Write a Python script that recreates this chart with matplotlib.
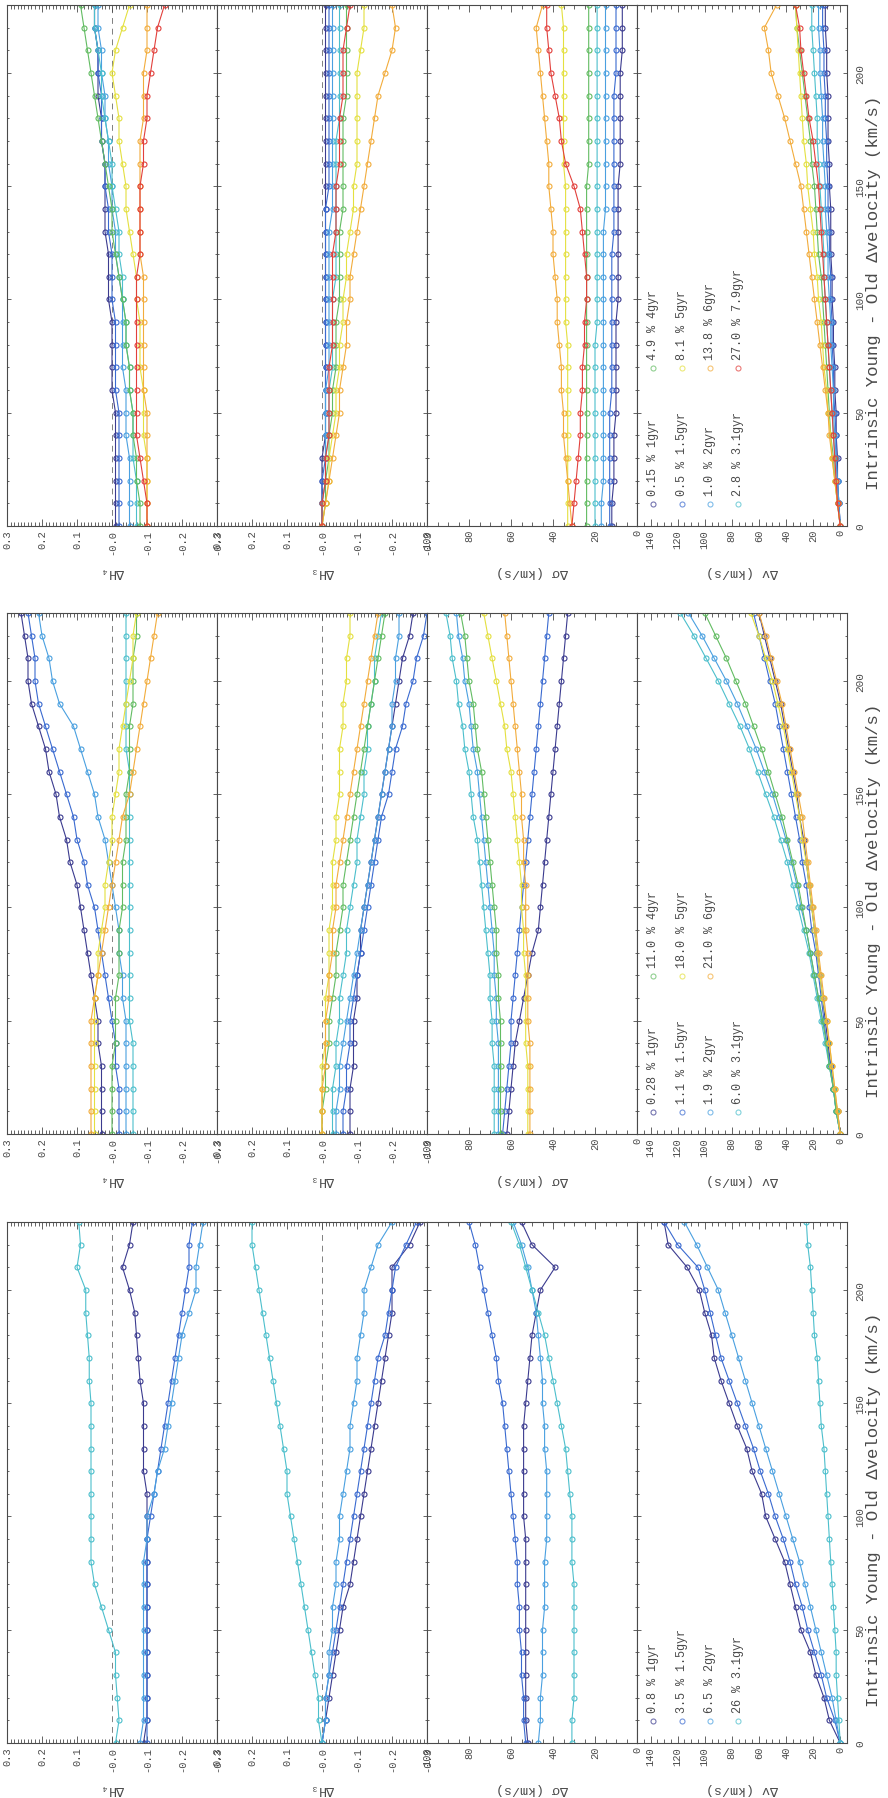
import matplotlib.pyplot as plt
from matplotlib.ticker import MultipleLocator

plt.rcParams['font.family'] = ['Liberation Mono', 'DejaVu Sans Mono']

# intrinsic young - old velocity offset (km/s)
vel = [0, 10, 20, 30, 40, 50, 60, 70, 80, 90, 100, 110,
       120, 130, 140, 150, 160, 170, 180, 190, 200, 210, 220, 230]

# one colour per young-population age: 1, 1.5, 2, 3.1, 4, 5, 6, 7.9 Gyr
age_colors = ['#3b3b8f', '#3a6ad0', '#4aa0e0', '#4cbfcc',
              '#62bc62', '#e4e040', '#f2ac3c', '#e2403c']

# ---- set A: four young fractions ----
a_labels = ['0.8 % 1gyr', '3.5 % 1.5gyr', '6.5 % 2gyr', '26 % 3.1gyr']
a_h4 = [
    [-0.09, -0.10, -0.10, -0.10, -0.10, -0.10, -0.10, -0.10, -0.10, -0.10, -0.10, -0.10,
     -0.09, -0.09, -0.09, -0.09, -0.08, -0.075, -0.07, -0.065, -0.05, -0.03, -0.05, -0.06],
    [-0.10, -0.10, -0.10, -0.10, -0.10, -0.10, -0.10, -0.10, -0.10, -0.10, -0.11, -0.12,
     -0.13, -0.14, -0.15, -0.16, -0.17, -0.18, -0.19, -0.20, -0.21, -0.22, -0.22, -0.23],
    [-0.08, -0.09, -0.09, -0.09, -0.09, -0.09, -0.09, -0.09, -0.09, -0.10, -0.10, -0.12,
     -0.13, -0.15, -0.16, -0.17, -0.18, -0.19, -0.20, -0.22, -0.24, -0.24, -0.25, -0.26],
    [-0.01, -0.02, -0.015, -0.01, -0.01, 0.01, 0.03, 0.05, 0.06, 0.06, 0.06, 0.06,
     0.06, 0.06, 0.06, 0.06, 0.065, 0.065, 0.07, 0.075, 0.075, 0.10, 0.09, 0.095],
]
a_h3 = [
    [0.0, -0.01, -0.02, -0.03, -0.04, -0.05, -0.06, -0.08, -0.09, -0.10, -0.11, -0.12,
     -0.13, -0.14, -0.15, -0.16, -0.17, -0.18, -0.19, -0.20, -0.20, -0.20, -0.25, -0.28],
    [0.0, -0.01, -0.01, -0.02, -0.03, -0.04, -0.05, -0.06, -0.07, -0.08, -0.09, -0.10,
     -0.11, -0.12, -0.13, -0.14, -0.15, -0.16, -0.18, -0.19, -0.20, -0.21, -0.24, -0.27],
    [0.0, -0.01, -0.01, -0.02, -0.02, -0.03, -0.03, -0.04, -0.04, -0.05, -0.05, -0.06,
     -0.07, -0.08, -0.08, -0.09, -0.10, -0.10, -0.11, -0.12, -0.12, -0.14, -0.16, -0.20],
    [0.0, 0.01, 0.01, 0.02, 0.03, 0.04, 0.05, 0.06, 0.07, 0.08, 0.09, 0.10,
     0.10, 0.11, 0.12, 0.13, 0.14, 0.15, 0.16, 0.17, 0.18, 0.19, 0.20, 0.20],
]
a_dsig = [
    [52, 53, 53, 53, 53, 53, 53, 53, 53, 53, 54, 54, 54, 54, 54, 53, 52, 51, 50, 48, 46, 39, 50, 55],
    [53, 54, 54, 55, 55, 56, 56, 57, 57, 58, 59, 60, 61, 62, 63, 64, 66, 67, 69, 71, 73, 75, 77, 80],
    [47, 46, 46, 45, 45, 45, 44, 44, 44, 43, 43, 43, 43, 44, 44, 45, 45, 46, 47, 48, 50, 52, 55, 59],
    [31, 31, 30, 30, 30, 30, 30, 30, 31, 31, 31, 32, 33, 34, 36, 38, 40, 42, 44, 47, 50, 53, 56, 60],
]
a_dv = [
    [0, 8, 12, 18, 22, 29, 33, 37, 41, 48, 55, 58, 65, 69, 76, 82, 88, 93, 95, 100, 104, 113, 127, 130],
    [0, 4, 10, 14, 19, 24, 28, 33, 37, 42, 48, 53, 59, 64, 70, 76, 82, 88, 92, 96, 100, 105, 120, 130],
    [0, 3, 6, 10, 14, 18, 22, 26, 30, 35, 40, 45, 50, 55, 60, 65, 70, 75, 80, 85, 90, 98, 106, 115],
    [0, 1, 2, 3, 3, 4, 5, 6, 7, 8, 9, 10, 11, 12, 14, 15, 16, 17, 19, 20, 21, 22, 24, 25],
]

# ---- set B: seven young fractions ----
b_labels = ['0.28 % 1gyr', '1.1 % 1.5gyr', '1.9 % 2gyr', '6.0 % 3.1gyr',
            '11.0 % 4gyr', '18.0 % 5gyr', '21.0 % 6gyr']
b_h4 = [
    [0.03, 0.03, 0.03, 0.03, 0.04, 0.04, 0.05, 0.06, 0.07, 0.08, 0.09, 0.10,
     0.12, 0.13, 0.15, 0.16, 0.18, 0.19, 0.21, 0.23, 0.24, 0.24, 0.25, 0.26],
    [-0.02, -0.02, -0.02, -0.01, -0.01, 0.0, 0.01, 0.02, 0.03, 0.04, 0.05, 0.07,
     0.08, 0.10, 0.11, 0.13, 0.15, 0.17, 0.19, 0.21, 0.22, 0.22, 0.23, 0.24],
    [-0.04, -0.04, -0.04, -0.04, -0.04, -0.04, -0.03, -0.03, -0.02, -0.02, -0.01, 0.0,
     0.01, 0.02, 0.04, 0.05, 0.07, 0.09, 0.11, 0.15, 0.17, 0.18, 0.20, 0.21],
    [-0.06, -0.06, -0.06, -0.06, -0.06, -0.05, -0.05, -0.05, -0.05, -0.05, -0.05, -0.05,
     -0.05, -0.05, -0.05, -0.05, -0.05, -0.04, -0.04, -0.04, -0.04, -0.04, -0.04, -0.04],
    [0.0, 0.0, 0.0, 0.0, -0.01, -0.01, -0.01, -0.02, -0.02, -0.02, -0.03, -0.03,
     -0.03, -0.04, -0.04, -0.04, -0.05, -0.05, -0.05, -0.06, -0.06, -0.06, -0.07, -0.07],
    [0.05, 0.05, 0.05, 0.05, 0.05, 0.05, 0.05, 0.04, 0.04, 0.03, 0.02, 0.02,
     0.01, 0.0, 0.0, -0.01, -0.02, -0.02, -0.03, -0.04, -0.05, -0.06, -0.06, -0.07],
    [0.06, 0.06, 0.06, 0.06, 0.06, 0.06, 0.05, 0.04, 0.03, 0.02, 0.01, 0.0,
     -0.01, -0.02, -0.03, -0.05, -0.06, -0.07, -0.08, -0.09, -0.10, -0.11, -0.12, -0.13],
]
b_h3 = [
    [-0.08, -0.08, -0.08, -0.09, -0.09, -0.09, -0.10, -0.10, -0.11, -0.11, -0.12, -0.13,
     -0.14, -0.15, -0.16, -0.17, -0.18, -0.19, -0.20, -0.21, -0.22, -0.23, -0.25, -0.26],
    [-0.06, -0.06, -0.07, -0.07, -0.08, -0.08, -0.09, -0.10, -0.11, -0.12, -0.13, -0.14,
     -0.15, -0.16, -0.17, -0.19, -0.20, -0.21, -0.23, -0.24, -0.26, -0.27, -0.29, -0.30],
    [-0.04, -0.04, -0.05, -0.05, -0.06, -0.07, -0.08, -0.09, -0.10, -0.11, -0.12, -0.13,
     -0.14, -0.15, -0.16, -0.17, -0.18, -0.19, -0.20, -0.20, -0.21, -0.21, -0.22, -0.22],
    [-0.03, -0.03, -0.03, -0.04, -0.04, -0.05, -0.05, -0.06, -0.07, -0.07, -0.08, -0.09,
     -0.10, -0.10, -0.11, -0.12, -0.12, -0.13, -0.13, -0.14, -0.15, -0.15, -0.16, -0.17],
    [0.0, 0.0, -0.01, -0.01, -0.02, -0.02, -0.03, -0.04, -0.04, -0.05, -0.06, -0.06,
     -0.07, -0.08, -0.09, -0.10, -0.11, -0.12, -0.13, -0.14, -0.15, -0.16, -0.17, -0.18],
    [0.0, 0.0, 0.0, 0.0, -0.01, -0.01, -0.01, -0.02, -0.02, -0.02, -0.03, -0.03,
     -0.03, -0.04, -0.04, -0.05, -0.05, -0.05, -0.06, -0.06, -0.07, -0.07, -0.08, -0.08],
    [0.0, 0.0, 0.0, -0.01, -0.01, -0.01, -0.02, -0.02, -0.03, -0.03, -0.04, -0.04,
     -0.05, -0.06, -0.07, -0.08, -0.09, -0.10, -0.11, -0.12, -0.13, -0.14, -0.15, -0.16],
]
b_dsig = [
    [62, 61, 60, 59, 58, 56, 54, 52, 50, 47, 46, 45, 44, 43, 42, 41, 40, 39, 38, 37, 36, 35, 34, 33],
    [64, 63, 62, 61, 60, 60, 59, 58, 57, 56, 55, 54, 53, 52, 51, 50, 49, 48, 47, 46, 45, 44, 43, 42],
    [66, 66, 66, 66, 66, 67, 67, 68, 68, 69, 70, 71, 72, 73, 74, 75, 76, 78, 79, 80, 82, 83, 85, 86],
    [68, 68, 68, 68, 69, 69, 70, 70, 71, 72, 73, 74, 75, 76, 78, 79, 80, 82, 83, 85, 86, 88, 89, 91],
    [65, 65, 65, 65, 65, 65, 66, 66, 67, 67, 68, 69, 70, 71, 72, 73, 74, 76, 77, 78, 80, 81, 82, 84],
    [52, 52, 52, 52, 53, 53, 53, 53, 54, 54, 55, 55, 56, 57, 58, 59, 60, 62, 63, 65, 67, 69, 71, 73],
    [51, 51, 51, 51, 51, 52, 52, 52, 52, 53, 53, 53, 54, 54, 55, 55, 56, 57, 58, 59, 60, 61, 62, 63],
]
b_dv = [
    [0, 2, 5, 7, 9, 11, 13, 15, 17, 19, 21, 23, 25, 27, 30, 32, 35, 38, 41, 44, 48, 52, 56, 60],
    [0, 3, 5, 7, 10, 12, 14, 16, 18, 21, 23, 25, 28, 30, 33, 36, 39, 42, 45, 48, 52, 56, 60, 64],
    [0, 3, 5, 8, 10, 13, 16, 19, 22, 25, 29, 32, 36, 40, 45, 50, 56, 62, 69, 76, 84, 93, 102, 112],
    [0, 3, 5, 8, 11, 14, 17, 20, 23, 27, 31, 35, 39, 44, 49, 55, 61, 67, 74, 82, 90, 99, 108, 118],
    [0, 3, 5, 8, 10, 13, 16, 19, 22, 25, 28, 31, 35, 39, 43, 48, 53, 58, 64, 70, 77, 84, 92, 100],
    [0, 2, 4, 6, 8, 10, 13, 15, 17, 19, 21, 23, 25, 28, 30, 33, 36, 39, 42, 46, 50, 55, 60, 66],
    [0, 2, 4, 6, 8, 10, 12, 14, 16, 18, 20, 22, 24, 26, 28, 31, 34, 37, 40, 43, 47, 51, 55, 60],
]

# ---- set C: eight young fractions ----
c_labels = ['0.15 % 1gyr', '0.5 % 1.5gyr', '1.0 % 2gyr', '2.8 % 3.1gyr',
            '4.9 % 4gyr', '8.1 % 5gyr', '13.8 % 6gyr', '27.0 % 7.9gyr']
c_h4 = [
    [-0.01, -0.01, -0.01, -0.01, -0.01, -0.01, 0.0, 0.0, 0.0, 0.0, 0.01, 0.01,
     0.01, 0.02, 0.02, 0.02, 0.02, 0.03, 0.03, 0.04, 0.04, 0.04, 0.05, 0.05],
    [-0.02, -0.02, -0.02, -0.02, -0.02, -0.02, -0.01, -0.01, -0.01, -0.01, 0.0, 0.0,
     0.0, 0.01, 0.01, 0.02, 0.02, 0.03, 0.03, 0.03, 0.04, 0.04, 0.05, 0.05],
    [-0.05, -0.05, -0.05, -0.05, -0.04, -0.04, -0.04, -0.03, -0.03, -0.03, -0.03, -0.02,
     -0.01, -0.01, 0.0, 0.0, 0.01, 0.01, 0.02, 0.02, 0.03, 0.03, 0.04, 0.04],
    [-0.07, -0.07, -0.07, -0.06, -0.06, -0.06, -0.05, -0.05, -0.04, -0.04, -0.03, -0.03,
     -0.02, -0.02, -0.01, 0.0, 0.0, 0.01, 0.02, 0.03, 0.03, 0.04, 0.05, 0.05],
    [-0.08, -0.08, -0.07, -0.07, -0.06, -0.06, -0.05, -0.05, -0.04, -0.04, -0.03, -0.02,
     -0.01, 0.0, 0.0, 0.01, 0.02, 0.03, 0.04, 0.05, 0.06, 0.07, 0.08, 0.09],
    [-0.10, -0.10, -0.10, -0.10, -0.09, -0.09, -0.09, -0.08, -0.08, -0.08, -0.07, -0.07,
     -0.06, -0.05, -0.04, -0.04, -0.03, -0.02, -0.02, -0.01, 0.0, -0.01, -0.03, -0.05],
    [-0.10, -0.10, -0.10, -0.10, -0.10, -0.10, -0.09, -0.09, -0.09, -0.09, -0.09, -0.09,
     -0.08, -0.08, -0.08, -0.08, -0.08, -0.08, -0.09, -0.09, -0.09, -0.10, -0.10, -0.10],
    [-0.10, -0.10, -0.09, -0.08, -0.07, -0.07, -0.07, -0.07, -0.07, -0.07, -0.07, -0.07,
     -0.08, -0.08, -0.08, -0.08, -0.09, -0.09, -0.10, -0.10, -0.11, -0.12, -0.13, -0.15],
]
c_h3 = [
    [0.0, 0.0, 0.0, 0.0, -0.01, -0.01, -0.01, -0.01, -0.01, -0.01, -0.01, -0.01,
     -0.01, -0.01, -0.01, -0.01, -0.01, -0.01, -0.01, -0.01, -0.01, -0.01, -0.01, -0.01],
    [0.0, 0.0, 0.0, -0.01, -0.01, -0.01, -0.01, -0.01, -0.01, -0.01, -0.01, -0.01,
     -0.01, -0.01, -0.01, -0.02, -0.02, -0.02, -0.02, -0.02, -0.02, -0.02, -0.02, -0.02],
    [0.0, 0.0, -0.01, -0.01, -0.01, -0.01, -0.01, -0.02, -0.02, -0.02, -0.02, -0.02,
     -0.02, -0.02, -0.03, -0.03, -0.03, -0.03, -0.03, -0.03, -0.03, -0.03, -0.03, -0.03],
    [0.0, 0.0, -0.01, -0.01, -0.02, -0.02, -0.02, -0.03, -0.03, -0.03, -0.03, -0.04,
     -0.04, -0.04, -0.04, -0.04, -0.04, -0.04, -0.05, -0.05, -0.05, -0.05, -0.05, -0.05],
    [0.0, -0.01, -0.01, -0.02, -0.02, -0.03, -0.03, -0.04, -0.04, -0.04, -0.05, -0.05,
     -0.05, -0.05, -0.06, -0.06, -0.06, -0.06, -0.06, -0.07, -0.07, -0.07, -0.07, -0.07],
    [0.0, -0.01, -0.02, -0.02, -0.03, -0.04, -0.04, -0.05, -0.05, -0.06, -0.06, -0.07,
     -0.07, -0.08, -0.09, -0.09, -0.10, -0.10, -0.10, -0.10, -0.10, -0.11, -0.12, -0.12],
    [0.0, -0.01, -0.02, -0.03, -0.04, -0.05, -0.05, -0.06, -0.07, -0.07, -0.08, -0.08,
     -0.09, -0.10, -0.11, -0.12, -0.13, -0.14, -0.15, -0.16, -0.18, -0.20, -0.21, -0.20],
    [0.0, 0.0, -0.01, -0.01, -0.02, -0.02, -0.02, -0.02, -0.03, -0.03, -0.03, -0.03,
     -0.03, -0.04, -0.04, -0.04, -0.05, -0.05, -0.05, -0.06, -0.06, -0.06, -0.07, -0.08],
]
c_dsig = [
    [12, 12, 11, 11, 11, 10, 10, 10, 10, 10, 9, 9, 9, 9, 9, 9, 8, 8, 8, 8, 8, 7, 7, 7],
    [13, 13, 13, 13, 13, 13, 12, 12, 12, 12, 12, 12, 12, 11, 11, 11, 11, 11, 11, 11, 10, 10, 10, 10],
    [17, 17, 16, 16, 16, 16, 16, 16, 16, 16, 16, 16, 16, 16, 15, 15, 15, 15, 15, 15, 15, 15, 15, 15],
    [20, 20, 20, 20, 20, 20, 20, 20, 20, 19, 19, 19, 19, 19, 19, 19, 19, 19, 19, 19, 19, 19, 19, 19],
    [24, 24, 24, 24, 24, 24, 24, 24, 24, 24, 24, 24, 24, 24, 24, 24, 23, 23, 23, 23, 23, 23, 23, 23],
    [33, 33, 33, 33, 33, 33, 33, 33, 33, 34, 34, 34, 34, 34, 34, 34, 35, 35, 35, 35, 35, 35, 35, 36],
    [31, 32, 33, 34, 35, 35, 36, 36, 37, 38, 38, 39, 40, 40, 41, 42, 42, 43, 44, 45, 46, 47, 48, 45],
    [31, 30, 29, 28, 27, 27, 26, 26, 25, 25, 24, 24, 25, 26, 27, 30, 34, 36, 37, 39, 41, 42, 43, 43],
]
c_dv = [
    [0, 1, 2, 2, 3, 3, 4, 4, 5, 5, 6, 6, 7, 7, 7, 8, 8, 9, 9, 9, 10, 10, 11, 11],
    [0, 1, 2, 3, 3, 4, 5, 5, 6, 6, 7, 7, 8, 8, 9, 9, 10, 10, 11, 11, 12, 12, 13, 13],
    [0, 1, 2, 3, 4, 5, 5, 6, 7, 7, 8, 9, 9, 10, 11, 11, 12, 13, 13, 14, 15, 15, 16, 16],
    [0, 2, 3, 4, 5, 6, 7, 8, 9, 10, 11, 12, 12, 13, 14, 15, 16, 17, 17, 18, 19, 20, 21, 21],
    [0, 2, 4, 5, 7, 8, 9, 10, 11, 12, 13, 14, 16, 17, 18, 19, 21, 22, 24, 26, 28, 30, 32, 33],
    [0, 2, 4, 6, 7, 9, 10, 12, 13, 14, 16, 17, 19, 20, 22, 24, 25, 27, 28, 29, 30, 31, 32, 33],
    [0, 2, 4, 6, 8, 9, 11, 13, 15, 17, 19, 21, 23, 25, 27, 29, 33, 37, 41, 46, 51, 53, 56, 47],
    [0, 2, 3, 4, 5, 6, 7, 8, 9, 10, 11, 12, 13, 14, 15, 16, 18, 20, 23, 25, 27, 29, 30, 33],
]

# tick positions / labels
h_ticks = [0.3, 0.2, 0.1, 0.0, -0.1, -0.2, -0.3]
h_ticklabels = ['0.3', '0.2', '0.1', '-0.0', '-0.1', '-0.2', '-0.3']
sig_ticks = [100, 80, 60, 40, 20, 0]
dv_ticks = [140, 120, 100, 80, 60, 40, 20, 0]
vel_ticks = [0, 50, 100, 150, 200]

# label, (left, right) limits, major ticks, tick labels, minor step, dashed zero line
panel_specs = [
    ('ΔH₄', (0.3, -0.3), h_ticks, h_ticklabels, 0.01, True),
    ('ΔH₃', (0.3, -0.3), h_ticks, h_ticklabels, 0.01, True),
    ('Δσ (km/s)', (100, 0), sig_ticks, [str(t) for t in sig_ticks], 5, False),
    ('Δv (km/s)', (150, -5), dv_ticks, [str(t) for t in dv_ticks], 5, False),
]

# page is laid out sideways: velocity runs up the page, each set is a band
W, H = 888, 1799
band_top = [6, 614, 1223]
band_h = 521
panel_x = [7, 217, 427, 637, 847]
INK = '#4a4a4a'

groups = [
    (band_top[0], c_labels, [c_h4, c_h3, c_dsig, c_dv]),
    (band_top[1], b_labels, [b_h4, b_h3, b_dsig, b_dv]),
    (band_top[2], a_labels, [a_h4, a_h3, a_dsig, a_dv]),
]

legend_x = [0.076, 0.214, 0.348, 0.481]
legend_y = [0.043, 0.304]


def px_rect(x0, y0, x1, y1):
    return [x0 / W, 1 - y1 / H, (x1 - x0) / W, (y1 - y0) / H]


fig = plt.figure(figsize=(W / 100, H / 100), dpi=100)

for top, labels, panels in groups:
    for k, (series, spec) in enumerate(zip(panels, panel_specs)):
        name, lims, ticks, ticklabels, minor, zero = spec
        ax = fig.add_axes(px_rect(panel_x[k], top, panel_x[k + 1], top + band_h))

        if zero:
            ax.axvline(0, color='#808080', lw=0.7, ls=(0, (6, 5)), zorder=0)
        for i, vals in enumerate(series):
            ax.plot(vals, vel, '-o', color=age_colors[i], lw=0.8, ms=3.6,
                    mfc='none', mew=0.8)

        ax.set_xlim(*lims)
        ax.set_ylim(0, 230)
        ax.set_xticks(ticks, ticklabels)
        ax.xaxis.set_minor_locator(MultipleLocator(minor))
        ax.set_yticks(vel_ticks)
        ax.yaxis.set_minor_locator(MultipleLocator(10))

        ax.tick_params(which='both', direction='in', top=True, bottom=True,
                       left=True, right=True, color=INK, width=0.6)
        ax.tick_params(axis='x', which='major', length=5)
        ax.tick_params(axis='x', which='minor', length=2.8)
        ax.tick_params(axis='y', which='major', length=3)
        ax.tick_params(axis='y', which='minor', length=1.6)
        ax.tick_params(axis='x', labelsize=7.5, labelcolor=INK,
                       labelrotation=90, pad=2)
        if k == 3:
            ax.tick_params(axis='y', labelleft=False, labelright=True,
                           labelrotation=90, labelsize=8, labelcolor=INK, pad=6)
            for tk in ax.yaxis.get_major_ticks():
                tk.label2.set_verticalalignment('center')
        else:
            ax.tick_params(axis='y', labelleft=False)

        for sp in ax.spines.values():
            sp.set_color(INK)
            sp.set_linewidth(0.8)

        # quantity name sits under the band, upside down like the rest of the page
        ax.text(0.5, -45 / band_h, name, transform=ax.transAxes, rotation=180,
                ha='center', va='center', fontsize=9.5, color=INK)

        if k == 3:
            for i, lab in enumerate(labels):
                col, row = i % 4, i // 4
                ax.plot([legend_x[col]], [legend_y[row]], 'o',
                        transform=ax.transAxes, mfc='none', mec=age_colors[i],
                        ms=3.6, mew=0.8, alpha=0.7, clip_on=False)
                ax.text(legend_x[col], legend_y[row] + 0.016, lab,
                        transform=ax.transAxes, rotation=90, ha='center',
                        va='bottom', fontsize=8.5, color=INK)
            ax.set_xlim(*lims)
            ax.set_ylim(0, 230)

    fig.text(873 / W, 1 - (top + 0.55 * band_h) / H,
             'Intrinsic Young - Old Δvelocity (km/s)', rotation=90,
             ha='center', va='center', fontsize=12.5, color=INK)

fig.savefig('out.png', dpi=100, facecolor='white')
